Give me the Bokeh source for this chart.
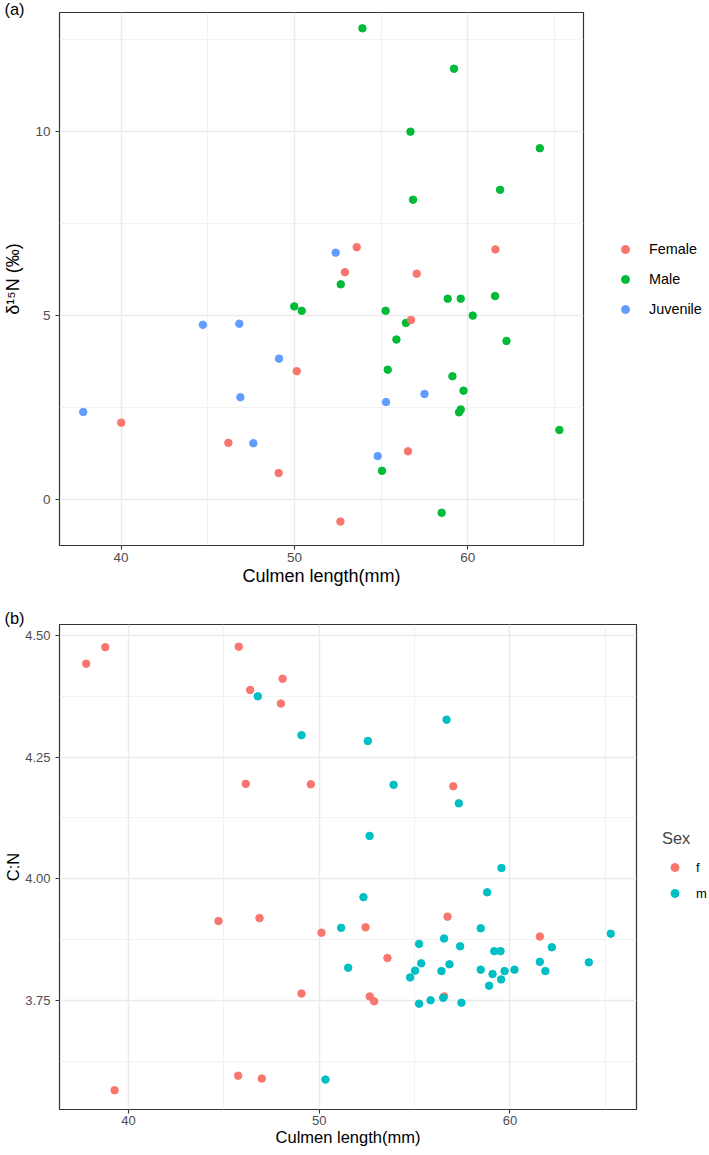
from bokeh.plotting import figure
from bokeh.models import (FixedTicker, Legend, LegendItem, Range1d, Title,
                          PrintfTickFormatter)
from bokeh.layouts import column
from bokeh.embed import file_html
from bokeh.resources import INLINE

FONT = "Liberation Sans"

# ---------------- Panel (a): delta15N vs culmen length ----------------
female_x = [53.59, 52.91, 61.59, 57.05, 56.72, 50.13, 40.01, 46.19, 49.09, 52.65, 56.55]
female_y = [6.85, 6.17, 6.79, 6.13, 4.87, 3.48, 2.08, 1.53, 0.71, -0.61, 1.30]
male_x = [53.92, 59.20, 56.69, 64.15, 61.86, 56.84, 52.67, 58.84, 59.59, 61.57, 49.99,
          50.42, 55.26, 60.28, 56.43, 55.88, 62.23, 55.38, 59.11, 59.75, 59.59, 59.49,
          65.28, 55.05, 58.49]
male_y = [12.80, 11.70, 9.99, 9.54, 8.41, 8.14, 5.84, 5.45, 5.45, 5.52, 5.24,
          5.12, 5.12, 4.99, 4.79, 4.34, 4.30, 3.52, 3.34, 2.95, 2.44, 2.36,
          1.88, 0.77, -0.37]
juv_x = [52.38, 44.72, 46.82, 49.11, 46.88, 37.82, 47.63, 57.50, 55.28, 54.80]
juv_y = [6.70, 4.74, 4.77, 3.82, 2.77, 2.37, 1.52, 2.86, 2.64, 1.17]

a_x_ticks = [40, 50, 60]
a_x_minor = [35, 45, 55, 65]
a_y_ticks = [0, 5, 10]
a_y_minor = [-2.5, 2.5, 7.5, 12.5]

# ---------------- Panel (b): C:N vs culmen length ----------------
f_x = [37.78, 38.78, 45.78, 46.38, 48.08, 47.99, 46.15, 49.56, 57.03, 44.72, 46.87, 50.12,
       49.07, 45.75, 46.99, 39.27, 56.73, 52.43, 61.57, 53.58, 52.65, 52.88, 56.55]
f_y = [4.442, 4.476, 4.477, 4.388, 4.411, 4.360, 4.195, 4.194, 4.190, 3.913, 3.919, 3.889,
       3.764, 3.595, 3.589, 3.565, 3.922, 3.900, 3.881, 3.837, 3.758, 3.748, 3.758]
m_x = [46.78, 49.07, 56.68, 52.55, 53.90, 57.32, 52.64, 59.56, 58.81, 52.32, 51.15, 51.52,
       50.33, 58.47, 65.29, 55.24, 56.55, 57.39, 59.18, 59.51, 62.20, 55.35, 56.83, 61.57,
       64.14, 55.03, 56.41, 58.47, 59.72, 60.24, 61.86, 59.09, 54.77, 59.54, 58.91, 56.50,
       55.84, 55.24, 57.46]
m_y = [4.375, 4.295, 4.327, 4.283, 4.193, 4.155, 4.088, 4.022, 3.972, 3.962, 3.899, 3.817,
       3.587, 3.898, 3.887, 3.866, 3.877, 3.861, 3.851, 3.851, 3.859, 3.826, 3.824, 3.829,
       3.828, 3.811, 3.810, 3.813, 3.810, 3.813, 3.810, 3.804, 3.797, 3.793, 3.780, 3.755,
       3.750, 3.743, 3.745]

b_x_ticks = [40, 50, 60]
b_x_minor = [35, 45, 55, 65]
b_y_ticks = [3.75, 4.00, 4.25, 4.50]
b_y_minor = [3.625, 3.875, 4.125, 4.375]


def style(p, xt, xm, yt, ym, tick_size, title_size, x_std, y_std):
    p.background_fill_color = "white"
    p.border_fill_color = "white"
    p.outline_line_color = "#333333"
    p.outline_line_width = 1.2
    p.xaxis.ticker = FixedTicker(ticks=xt, minor_ticks=xm)
    p.yaxis.ticker = FixedTicker(ticks=yt, minor_ticks=ym)
    for ax in (p.xaxis[0], p.yaxis[0]):
        ax.axis_line_color = None
        ax.major_tick_line_color = "#333333"
        ax.major_tick_line_width = 1.1
        ax.major_tick_out = 4
        ax.major_tick_in = 0
        ax.minor_tick_line_color = None
        ax.major_label_text_font = FONT
        ax.major_label_text_font_size = tick_size
        ax.major_label_text_color = "#4D4D4D"
        ax.axis_label_text_font = FONT
        ax.axis_label_text_font_size = title_size
        ax.axis_label_text_font_style = "normal"
        ax.axis_label_text_color = "black"
    p.xaxis[0].major_label_standoff = x_std[0]
    p.xaxis[0].axis_label_standoff = x_std[1]
    p.yaxis[0].major_label_standoff = y_std[0]
    p.yaxis[0].axis_label_standoff = y_std[1]
    for g in (p.xgrid[0], p.ygrid[0]):
        g.grid_line_color = "#EBEBEB"
        g.grid_line_width = 1.5
        g.minor_grid_line_color = "#EFEFEF"
        g.minor_grid_line_width = 0.8


def panel_title(text, standoff):
    return Title(text=text, align="left", offset=-55, standoff=standoff,
                 text_font=FONT, text_font_size="16.4px",
                 text_font_style="normal", text_color="black")


# ----- figure (a) -----
p1 = figure(frame_width=524, frame_height=533,
            x_range=Range1d(36.45, 66.67), y_range=Range1d(-1.26, 13.23),
            output_backend="svg", toolbar_location=None,
            min_border_left=54, min_border_right=125,
            min_border_top=12, min_border_bottom=46)
p1.xaxis.axis_label = "Culmen length(mm)"
p1.yaxis.axis_label = "δ¹⁵N (‰)"
style(p1, a_x_ticks, a_x_minor, a_y_ticks, a_y_minor, "13.5px", "18px", (3, 1), (5, 9))

r_m = p1.scatter(male_x, male_y, size=7.5, color="#00BA38")
r_j = p1.scatter(juv_x, juv_y, size=7.5, color="#619CFF")
r_f = p1.scatter(female_x, female_y, size=7.5, color="#F8766D")

leg1 = Legend(items=[LegendItem(label="Female", renderers=[r_f]),
                     LegendItem(label="Male", renderers=[r_m]),
                     LegendItem(label="Juvenile", renderers=[r_j])],
              location=(32, 226), orientation="vertical",
              padding=0, margin=0, spacing=10,
              glyph_width=20, glyph_height=20, label_height=20,
              label_standoff=14,
              label_text_font=FONT, label_text_font_size="14.4px",
              label_text_color="black",
              background_fill_alpha=0, border_line_color=None)
p1.add_layout(leg1, "right")
p1.add_layout(panel_title("(a)", -11), "above")

# ----- figure (b) -----
p2 = figure(frame_width=577, frame_height=485,
            x_range=Range1d(36.38, 66.64), y_range=Range1d(3.5255, 4.5226),
            output_backend="svg", toolbar_location=None,
            min_border_left=54, min_border_right=72,
            min_border_top=33, min_border_bottom=42)
p2.xaxis.axis_label = "Culmen length(mm)"
p2.yaxis.axis_label = "C:N"
style(p2, b_x_ticks, b_x_minor, b_y_ticks, b_y_minor, "13px", "16.5px", (2, 0), (5, 0))
p2.yaxis[0].formatter = PrintfTickFormatter(format="%.2f")

r_ff = p2.scatter(f_x, f_y, size=7.5, color="#F8766D")
r_mm = p2.scatter(m_x, m_y, size=7.5, color="#00BFC4")

leg2 = Legend(items=[LegendItem(label="f", renderers=[r_ff]),
                     LegendItem(label="m", renderers=[r_mm])],
              location=(26, 206), orientation="vertical",
              title="Sex", title_text_font=FONT, title_text_font_size="16.4px",
              title_text_font_style="normal", title_standoff=9,
              padding=0, margin=0, spacing=6,
              glyph_width=25, glyph_height=20, label_height=20,
              label_standoff=9,
              label_text_font=FONT, label_text_font_size="13px",
              label_text_color="black",
              background_fill_alpha=0, border_line_color=None)
p2.add_layout(leg2, "right")
p2.add_layout(panel_title("(b)", -5), "above")

layout = column(p1, p2, spacing=0)
open("out.html", "w").write(file_html(layout, INLINE))
